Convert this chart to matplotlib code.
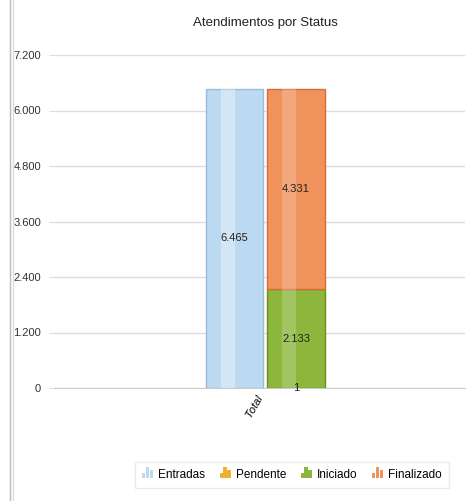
import matplotlib
matplotlib.use("Agg")
import matplotlib.pyplot as plt
from matplotlib.patches import Rectangle
from matplotlib.lines import Line2D
from matplotlib.legend_handler import HandlerBase

categories = ["Total"]
entradas = [6465]
pendente = [1]
iniciado = [2133]
finalizado = [4331]
series_names = ["Entradas", "Pendente", "Iniciado", "Finalizado"]
yticks = [0, 1200, 2400, 3600, 4800, 6000, 7200]

colors = {"Entradas": "#bcd9f2", "Pendente": "#f0b030", "Iniciado": "#8cb63c", "Finalizado": "#f0925c"}
edges = {"Entradas": "#9cbbd8", "Pendente": "#c08a10", "Iniciado": "#6e8f1c", "Finalizado": "#d46e38"}

def fmt(v):
    return f"{v:,}".replace(",", ".")

plt.rcParams['font.family'] = ['Liberation Sans', 'DejaVu Sans']

fig = plt.figure(figsize=(4.69, 5.01), dpi=100)
ax = fig.add_axes([55/469, 1-388/501, 410/469, 333/501])

w = 0.28
xe = -0.148
xs = 0.152
for i, c in enumerate(categories):
    b = ax.bar(xe + i, entradas[i], w, color=colors["Entradas"], edgecolor=edges["Entradas"], linewidth=1, zorder=3)
    ax.bar(xs + i, pendente[i], w, color=colors["Pendente"], edgecolor=edges["Pendente"], linewidth=1, zorder=3)
    ax.bar(xs + i, iniciado[i], w, bottom=pendente[i], color=colors["Iniciado"], edgecolor=edges["Iniciado"], linewidth=1, zorder=3)
    ax.bar(xs + i, finalizado[i], w, bottom=pendente[i] + iniciado[i], color=colors["Finalizado"], edgecolor=edges["Finalizado"], linewidth=1, zorder=3)
    # highlights
    ax.bar(xe + i - w*0.12, entradas[i], w*0.25, color="white", alpha=0.35, linewidth=0, zorder=4)
    ax.bar(xs + i - w*0.12, iniciado[i] + finalizado[i], w*0.25, bottom=pendente[i], color="white", alpha=0.2, linewidth=0, zorder=4)
    ax.text(xe + i, entradas[i]/2, fmt(entradas[i]), ha="center", va="center", fontsize=8, color="#222", zorder=5)
    ax.text(xs + i, pendente[i] + iniciado[i] + finalizado[i]/2, fmt(finalizado[i]), ha="center", va="center", fontsize=8, color="#222", zorder=5)
    ax.text(xs + i, pendente[i] + iniciado[i]/2, fmt(iniciado[i]), ha="center", va="center", fontsize=8, color="#222", zorder=5)
    ax.text(xs + i, pendente[i], fmt(pendente[i]), ha="center", va="center", fontsize=8, color="#222", zorder=5)

ax.set_xlim(-1.024, 0.976)
ax.set_ylim(0, 7200)
ax.set_yticks(yticks)
ax.set_yticklabels([fmt(t) for t in yticks], fontsize=8, color="#333")
ax.set_xticks(range(len(categories)))
ax.set_xticklabels(categories, rotation=60, fontsize=8, ha="right", va="top", style="italic")
ax.tick_params(axis="x", length=0, pad=4)
ax.tick_params(axis="y", length=4, color="#dddddd", pad=6)
ax.grid(axis="y", color="#dddddd", linewidth=1, zorder=0)
for s in ["top", "right", "left"]:
    ax.spines[s].set_visible(False)
ax.spines["bottom"].set_color("#cccccc")

fig.text(265/469, 1-23/501, "Atendimentos por Status", ha="center", va="center", fontsize=9.5, color="#222")
fig.add_artist(Line2D([10/469, 10/469], [0, 1], color="#bbbbbb", lw=1))
fig.add_artist(Line2D([13/469, 13/469], [0, 1], color="#dddddd", lw=1))

class BarIcon(HandlerBase):
    def __init__(self, color):
        super().__init__()
        self.color = color
    def create_artists(self, legend, orig_handle, xd, yd, width, height, fontsize, trans):
        arts = []
        bw = width / 3.5
        hs = [0.5, 1.0, 0.7]
        for k, h in enumerate(hs):
            r = Rectangle((xd + k*bw*1.15, yd), bw, height*h*1.3, facecolor=self.color, edgecolor="none", transform=trans)
            arts.append(r)
        return arts

handles = [Rectangle((0, 0), 1, 1, color=colors[n]) for n in series_names]
hmap = {h: BarIcon(colors[n]) for h, n in zip(handles, series_names)}
leg = fig.legend(handles, series_names, loc="center", bbox_to_anchor=(292/469, 1-475/501), ncol=4,
                 fontsize=8.5, frameon=True, handler_map=hmap, handlelength=1.0, handletextpad=0.4,
                 columnspacing=1.2, borderpad=0.6, fancybox=False)
leg.get_frame().set_edgecolor("#e6e6e6")
leg.get_frame().set_linewidth(1)

fig.savefig("out.png", dpi=100)
